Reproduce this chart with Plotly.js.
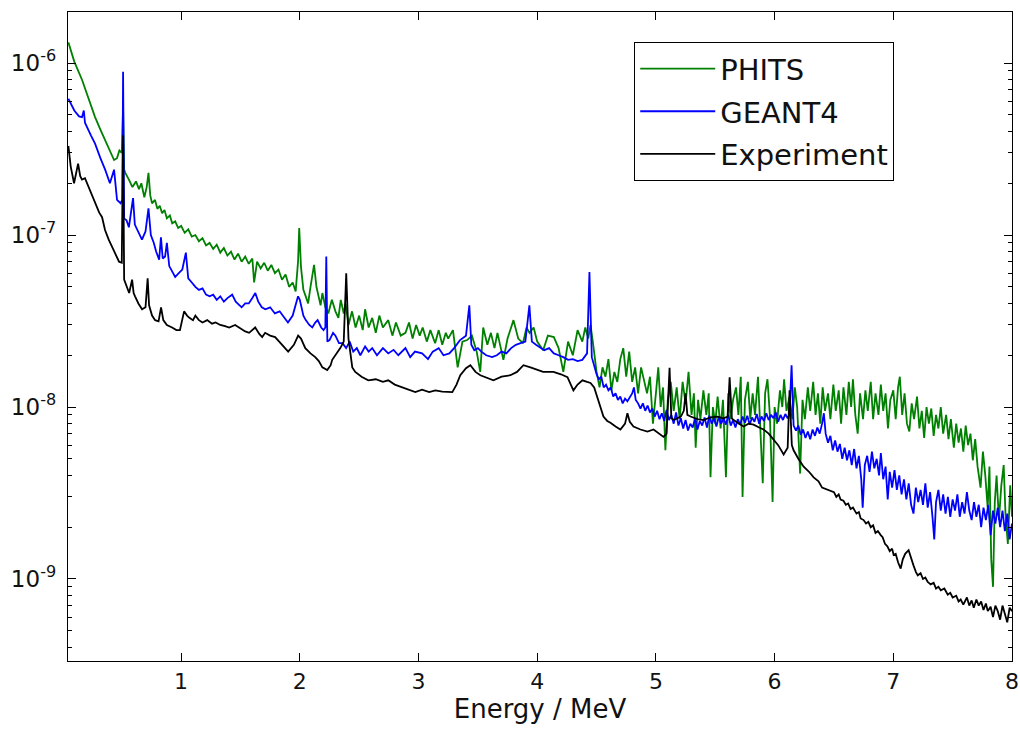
<!DOCTYPE html>
<html>
<head>
<meta charset="utf-8">
<script src="https://cdn.plot.ly/plotly-3.0.1.min.js"></script>
<style>
html,body{margin:0;padding:0;background:#fff;}
#chart{width:1020px;height:729px;}
</style>
</head>
<body>
<div id="chart"></div>
<script>
// ---- data (energy in MeV, counts per unit) ----
const phitsE = [0.05,0.10,0.165,0.22,0.275,0.32,0.36,0.40,0.435,0.46,0.48,0.50,0.511,0.52,0.53,0.56,0.59,0.62,0.645,0.665,0.69,0.71,0.725,0.74,0.755,0.78,0.80,0.82,0.84,0.86,0.88,0.905,0.925,0.95,0.975,1.00,1.03,1.06,1.09,1.12,1.15,1.18,1.21,1.24,1.27,1.30,1.33,1.36,1.39,1.42,1.45,1.48,1.51,1.54,1.57,1.60,1.615,1.64,1.67,1.70,1.73,1.76,1.79,1.82,1.85,1.88,1.91,1.94,1.965,1.985,1.995,2.01,2.03,2.05,2.07,2.09,2.12,2.14,2.155,2.175,2.19,2.215,2.24,2.27,2.30,2.325,2.345,2.37,2.385,2.41,2.44,2.47,2.50,2.53,2.55,2.58,2.61,2.64,2.67,2.70,2.745,2.78,2.81,2.85,2.89,2.92,2.95,2.98,3.01,3.035,3.07,3.10,3.14,3.17,3.20,3.23,3.25,3.29,3.33,3.37,3.41,3.45,3.49,3.52,3.545,3.58,3.61,3.64,3.665,3.69,3.715,3.75,3.80,3.84,3.88,3.91,3.935,3.97,4.00,4.05,4.09,4.14,4.18,4.22,4.26,4.30,4.34,4.38,4.405,4.43,4.449,4.47,
4.500,4.525,4.550,4.575,4.600,4.625,4.650,4.675,4.700,4.725,4.750,4.775,4.800,4.825,4.850,4.875,4.900,4.925,4.950,4.975,5.000,5.020,5.040,5.060,5.080,5.100,5.125,5.150,5.175,5.200,5.225,5.250,5.275,5.300,5.320,5.335,5.355,5.375,5.400,5.425,5.445,5.460,5.480,5.500,5.520,5.545,5.565,5.590,5.610,5.630,5.650,5.675,5.695,5.715,5.730,5.750,5.775,5.795,5.815,5.835,5.860,5.880,5.900,5.920,5.940,5.960,5.983,6.000,6.020,6.045,6.065,6.080,6.100,6.125,6.150,6.170,6.190,6.215,6.235,6.255,6.280,6.300,6.325,6.345,6.365,6.385,6.405,6.425,6.450,6.470,6.495,6.515,6.540,6.560,6.580,6.605,6.625,6.645,6.660,6.680,6.700,6.720,6.745,6.765,6.785,6.810,6.830,6.850,6.875,6.895,6.915,6.935,6.955,6.975,7.000,7.020,7.040,7.055,7.075,7.095,7.115,7.135,7.155,7.175,7.200,7.220,7.240,7.260,7.280,7.300,7.320,7.340,7.360,7.380,7.400,7.420,7.445,7.465,7.485,7.510,7.530,7.550,7.570,7.590,7.610,7.630,7.650,7.670,7.690,7.710,7.735,7.755,7.775,7.795,7.810,7.825,7.840,7.855,7.870,7.890,7.910,7.930,7.945,7.965,7.985,8.000];
const phitsY = [1.32e-6,1.02e-6,8.0e-7,6.2e-7,4.85e-7,4.1e-7,3.57e-7,3.1e-7,2.73e-7,2.8e-7,3.1e-7,3.0e-7,5.5e-7,2.4e-7,2.3e-7,2.1e-7,1.9e-7,2.05e-7,1.85e-7,2.0e-7,1.66e-7,1.9e-7,2.3e-7,1.7e-7,1.53e-7,1.6e-7,1.42e-7,1.48e-7,1.34e-7,1.4e-7,1.25e-7,1.3e-7,1.17e-7,1.2e-7,1.1e-7,1.13e-7,1.03e-7,1.08e-7,9.8e-8,1.0e-7,9.2e-8,9.6e-8,8.7e-8,9.0e-8,8.3e-8,8.8e-8,7.9e-8,8.4e-8,7.6e-8,8.0e-8,7.2e-8,7.8e-8,7.0e-8,7.5e-8,6.8e-8,7.3e-8,5.3e-8,7.0e-8,6.4e-8,6.9e-8,6.2e-8,6.7e-8,6.0e-8,6.3e-8,5.5e-8,5.9e-8,5.0e-8,5.3e-8,4.7e-8,7.0e-8,1.1e-7,6.5e-8,4.8e-8,4.4e-8,4.0e-8,5.0e-8,6.7e-8,5.0e-8,4.4e-8,3.9e-8,4.6e-8,3.8e-8,3.5e-8,4.2e-8,3.6e-8,3.3e-8,4.2e-8,3.5e-8,4.0e-8,3.0e-8,3.6e-8,2.9e-8,3.4e-8,2.8e-8,3.7e-8,2.9e-8,3.3e-8,2.7e-8,3.4e-8,2.9e-8,3.2e-8,2.6e-8,3.1e-8,2.6e-8,2.7e-8,3.1e-8,2.5e-8,3.0e-8,2.6e-8,2.9e-8,2.4e-8,2.8e-8,2.35e-8,2.8e-8,2.3e-8,2.7e-8,2.5e-8,2.8e-8,1.7e-8,2.4e-8,2.45e-8,2.6e-8,2.1e-8,1.6e-8,2.9e-8,2.3e-8,2.7e-8,2.2e-8,2.7e-8,2.3e-8,1.88e-8,2.5e-8,3.2e-8,2.5e-8,2.35e-8,2.9e-8,2.7e-8,2.9e-8,2.4e-8,2.14e-8,2.6e-8,2.55e-8,2.2e-8,1.6e-8,2.4e-8,2.0e-8,2.8e-8,2.4e-8,2.9e-8,2.5e-8,3.0e-8,2.35e-8,
1.6e-8,1.3e-8,1.7e-8,1.5e-8,1.9e-8,1.25e-8,1.6e-8,1.4e-8,1.9e-8,2.2e-8,1.5e-8,2.1e-8,1.4e-8,1.7e-8,1.2e-8,1.7e-8,1.4e-8,1.2e-8,1.5e-8,8.0e-9,1.2e-8,1.7e-8,1.0e-8,1.3e-8,5.6e-9,1.1e-8,1.4e-8,9.5e-9,1.3e-8,8.5e-9,1.4e-8,1.05e-8,1.6e-8,9.0e-9,1.2e-8,5.8e-9,1.1e-8,8.5e-9,1.25e-8,9.0e-9,1.2e-8,3.9e-9,1.0e-8,8.0e-9,1.15e-8,7.5e-9,1.1e-8,3.9e-9,1.2e-8,8.5e-9,1.1e-8,1.3e-8,9.0e-9,1.5e-8,3.0e-9,1.1e-8,1.4e-8,8.5e-9,1.2e-8,9.0e-9,1.5e-8,8.0e-9,3.6e-9,1.2e-8,1.45e-8,9.0e-9,2.8e-9,1.0e-8,8.0e-9,1.25e-8,1.0e-8,1.45e-8,9.5e-9,1.15e-8,8.5e-9,1.3e-8,1.0e-8,4.1e-9,1.1e-8,8.5e-9,1.3e-8,9.5e-9,1.4e-8,9.0e-9,1.2e-8,8.0e-9,1.3e-8,9.5e-9,1.2e-8,8.5e-9,1.35e-8,9.5e-9,1.25e-8,8.0e-9,1.3e-8,9.0e-9,1.4e-8,1.0e-8,1.45e-8,9.0e-9,7.0e-9,1.2e-8,8.5e-9,1.25e-8,9.5e-9,1.4e-8,8.5e-9,1.2e-8,9.0e-9,1.35e-8,9.5e-9,1.2e-8,7.5e-9,1.1e-8,1.25e-8,8.5e-9,1.3e-8,1.5e-8,9.0e-9,1.2e-8,8.0e-9,7.2e-9,1.05e-8,8.5e-9,1.15e-8,7.5e-9,9.5e-9,6.6e-9,1.0e-8,8.0e-9,9.8e-9,6.8e-9,9.0e-9,7.5e-9,1.0e-8,7.0e-9,9.0e-9,6.5e-9,8.5e-9,5.8e-9,8.0e-9,6.2e-9,7.5e-9,5.5e-9,7.8e-9,6.0e-9,7.0e-9,4.9e-9,6.5e-9,4.5e-9,3.4e-9,5.5e-9,4.0e-9,2.6e-9,4.5e-9,1.3e-9,9.0e-10,2.8e-9,4.0e-9,2.2e-9,3.5e-9,4.6e-9,2.4e-9,1.6e-9,3.5e-9,2.3e-9];

const geantE = [0.05,0.10,0.14,0.165,0.18,0.19,0.24,0.275,0.32,0.36,0.40,0.435,0.46,0.49,0.505,0.511,0.52,0.54,0.56,0.595,0.61,0.63,0.67,0.70,0.725,0.745,0.77,0.79,0.815,0.83,0.845,0.865,0.88,0.90,0.93,0.95,0.98,1.01,1.04,1.06,1.09,1.12,1.15,1.18,1.21,1.24,1.27,1.30,1.33,1.36,1.39,1.43,1.46,1.49,1.51,1.54,1.57,1.60,1.625,1.65,1.68,1.71,1.75,1.79,1.83,1.87,1.90,1.94,1.985,2.00,2.03,2.05,2.08,2.105,2.13,2.15,2.18,2.20,2.215,2.223,2.232,2.25,2.28,2.30,2.33,2.36,2.39,2.42,2.45,2.48,2.51,2.55,2.58,2.61,2.65,2.70,2.745,2.79,2.83,2.89,2.93,2.97,3.03,3.08,3.12,3.17,3.21,3.26,3.30,3.35,3.40,3.428,3.445,3.47,3.50,3.53,3.57,3.62,3.66,3.70,3.74,3.78,3.82,3.86,3.90,3.934,3.955,3.99,4.03,4.06,4.10,4.14,4.18,4.22,4.26,4.30,4.34,4.38,4.42,4.44,
4.460,4.480,4.500,4.520,4.540,4.560,4.580,4.600,4.620,4.640,4.660,4.680,4.700,4.720,4.740,4.760,4.780,4.800,4.815,4.830,4.850,4.870,4.890,4.910,4.930,4.950,4.970,4.990,5.010,5.030,5.050,5.070,5.090,5.110,5.130,5.150,5.170,5.190,5.210,5.230,5.250,5.270,5.290,5.310,5.330,5.350,5.370,5.390,5.410,5.430,5.450,5.470,5.490,5.510,5.530,5.550,5.570,5.590,5.610,5.630,5.650,5.670,5.690,5.710,5.730,5.750,5.770,5.790,5.810,5.830,5.850,5.870,5.890,5.910,5.930,5.950,5.970,5.990,6.010,6.030,6.050,6.070,6.090,6.110,6.125,6.143,6.160,6.180,6.200,6.220,6.240,6.260,6.280,6.300,6.320,6.340,6.360,6.380,6.400,6.415,6.430,6.450,6.470,6.490,6.510,6.530,6.550,6.570,6.590,6.610,6.630,6.650,6.670,6.690,6.710,6.730,6.742,6.760,6.780,6.800,6.820,6.840,6.860,6.880,6.895,6.915,6.935,6.953,6.970,6.990,7.010,7.030,7.050,7.070,7.090,7.110,7.130,7.150,7.170,7.190,7.210,7.230,7.250,7.270,7.290,7.310,7.330,7.345,7.360,7.380,7.400,7.420,7.440,7.460,7.480,7.500,7.520,7.540,7.560,7.580,7.600,7.620,7.640,7.660,7.680,7.700,7.720,7.740,7.760,7.780,7.800,7.820,7.840,7.860,7.880,7.900,7.920,7.940,7.960,7.980,8.000];
const geantY = [6.2e-7,5.3e-7,4.9e-7,4.85e-7,5.3e-7,4.5e-7,3.8e-7,3.4e-7,2.8e-7,2.4e-7,2.0e-7,2.4e-7,1.6e-7,1.53e-7,1.6e-7,8.9e-7,1.25e-7,1.22e-7,1.11e-7,1.64e-7,1.15e-7,1.07e-7,9.4e-8,1.05e-7,1.43e-7,1.0e-7,9.0e-8,8.0e-8,7.2e-8,9.7e-8,7.3e-8,7.5e-8,9.0e-8,6.6e-8,6.0e-8,5.7e-8,6.0e-8,6.3e-8,7.9e-8,5.6e-8,5.3e-8,5.0e-8,4.8e-8,4.9e-8,4.5e-8,4.4e-8,4.5e-8,4.2e-8,4.4e-8,4.1e-8,4.3e-8,4.5e-8,4.1e-8,3.9e-8,3.8e-8,4.0e-8,4.0e-8,4.3e-8,4.6e-8,4.1e-8,3.8e-8,3.7e-8,3.8e-8,3.5e-8,3.6e-8,3.3e-8,3.1e-8,3.4e-8,4.4e-8,4.2e-8,3.4e-8,3.2e-8,3.0e-8,2.9e-8,3.1e-8,3.2e-8,2.9e-8,2.8e-8,2.9e-8,7.5e-8,2.4e-8,2.45e-8,2.7e-8,2.6e-8,2.35e-8,2.35e-8,2.2e-8,2.4e-8,2.1e-8,2.2e-8,2.0e-8,2.25e-8,2.1e-8,2.2e-8,2.0e-8,2.2e-8,2.05e-8,2.15e-8,2.0e-8,2.2e-8,1.95e-8,2.1e-8,2.05e-8,1.9e-8,2.1e-8,2.2e-8,2.0e-8,2.05e-8,2.2e-8,2.45e-8,2.6e-8,3.9e-8,2.3e-8,2.14e-8,2.2e-8,2.1e-8,2.0e-8,1.95e-8,2.0e-8,2.1e-8,2.05e-8,2.2e-8,2.3e-8,2.35e-8,2.4e-8,3.9e-8,2.4e-8,2.3e-8,2.2e-8,2.14e-8,2.2e-8,2.05e-8,2.0e-8,1.95e-8,1.88e-8,1.9e-8,1.85e-8,1.88e-8,2.05e-8,6.1e-8,
1.95e-8,1.7e-8,1.55e-8,1.45e-8,1.5e-8,1.3e-8,1.35e-8,1.25e-8,1.3e-8,1.15e-8,1.2e-8,1.1e-8,1.15e-8,1.05e-8,1.12e-8,1.08e-8,1.15e-8,1.2e-8,1.3e-8,1.1e-8,1.05e-8,9.8e-9,1.05e-8,9.5e-9,1.02e-8,9.3e-9,9.8e-9,8.8e-9,9.5e-9,8.5e-9,9.2e-9,8.3e-9,9.6e-9,8.4e-9,9.0e-9,8.0e-9,9.3e-9,7.8e-9,8.6e-9,7.5e-9,8.4e-9,7.3e-9,8.0e-9,7.6e-9,8.6e-9,7.4e-9,8.3e-9,7.8e-9,8.7e-9,7.6e-9,8.9e-9,8.0e-9,8.6e-9,7.7e-9,8.8e-9,8.0e-9,8.6e-9,7.9e-9,9.0e-9,7.8e-9,8.4e-9,7.6e-9,8.5e-9,7.9e-9,8.8e-9,8.1e-9,8.9e-9,7.9e-9,8.7e-9,8.2e-9,9.1e-9,8.0e-9,8.8e-9,8.3e-9,9.2e-9,8.4e-9,9.0e-9,8.6e-9,9.3e-9,8.2e-9,9.0e-9,8.4e-9,9.1e-9,8.6e-9,9.0e-9,1.75e-8,7.8e-9,7.3e-9,7.8e-9,6.9e-9,7.4e-9,6.6e-9,7.2e-9,6.5e-9,7.4e-9,6.8e-9,7.6e-9,7.0e-9,8.0e-9,9.2e-9,7.0e-9,6.2e-9,6.8e-9,5.6e-9,6.4e-9,5.5e-9,6.1e-9,5.0e-9,5.8e-9,4.9e-9,5.6e-9,4.6e-9,5.7e-9,4.4e-9,5.2e-9,3.8e-9,2.6e-9,4.6e-9,5.2e-9,4.2e-9,5.5e-9,4.4e-9,5.0e-9,4.0e-9,5.4e-9,3.8e-9,4.5e-9,2.9e-9,4.2e-9,3.4e-9,4.3e-9,3.3e-9,4.0e-9,3.1e-9,3.8e-9,2.9e-9,3.6e-9,2.7e-9,2.4e-9,3.4e-9,2.8e-9,3.3e-9,2.7e-9,3.6e-9,2.6e-9,3.2e-9,2.3e-9,1.7e-9,2.8e-9,3.3e-9,2.5e-9,3.1e-9,2.4e-9,3.0e-9,2.3e-9,2.9e-9,2.5e-9,3.1e-9,2.3e-9,2.8e-9,2.4e-9,3.2e-9,2.5e-9,2.2e-9,2.8e-9,2.3e-9,2.7e-9,2.0e-9,2.6e-9,2.2e-9,2.7e-9,1.8e-9,2.5e-9,2.1e-9,2.6e-9,2.0e-9,2.5e-9,1.9e-9,2.4e-9,1.7e-9,2.1e-9];

const expE = [0.05,0.07,0.098,0.115,0.132,0.15,0.165,0.19,0.22,0.25,0.275,0.31,0.334,0.359,0.39,0.418,0.45,0.477,0.50,0.511,0.52,0.54,0.562,0.587,0.60,0.612,0.64,0.671,0.70,0.718,0.73,0.755,0.781,0.81,0.831,0.85,0.88,0.924,0.96,0.99,1.025,1.05,1.07,1.10,1.12,1.15,1.18,1.22,1.26,1.29,1.33,1.37,1.405,1.455,1.50,1.54,1.573,1.624,1.66,1.683,1.708,1.75,1.792,1.84,1.902,1.95,1.986,2.01,2.046,2.09,2.13,2.16,2.19,2.231,2.26,2.273,2.30,2.341,2.37,2.391,2.41,2.442,2.467,2.52,2.577,2.64,2.70,2.745,2.80,2.863,2.92,2.973,3.03,3.09,3.142,3.20,3.285,3.32,3.352,3.40,3.437,3.48,3.521,3.58,3.631,3.70,3.774,3.83,3.884,3.943,4.00,4.05,4.137,4.20,4.255,4.28,4.305,4.34,4.381,4.42,4.449,4.48,4.508,4.535,4.558,4.59,4.617,4.66,4.701,4.74,4.76,4.78,4.811,4.87,4.929,4.98,5.03,5.064,5.09,5.115,5.13,5.15,5.21,5.235,5.25,5.265,5.292,5.35,5.40,5.46,5.52,5.57,5.605,5.621,5.64,5.655,5.70,5.739,5.78,5.823,5.87,5.907,5.95,5.992,6.03,6.076,6.11,6.126,6.145,6.16,6.20,6.245,6.29,6.329,6.37,6.40,6.447,
6.500,6.520,6.540,6.556,6.580,6.600,6.620,6.640,6.660,6.690,6.710,6.725,6.750,6.770,6.790,6.810,6.830,6.850,6.870,6.894,6.910,6.930,6.950,6.970,6.990,7.003,7.020,7.040,7.062,7.080,7.100,7.129,7.150,7.170,7.190,7.206,7.230,7.250,7.270,7.290,7.315,7.340,7.360,7.380,7.400,7.430,7.459,7.480,7.500,7.530,7.550,7.568,7.590,7.620,7.640,7.660,7.678,7.700,7.720,7.740,7.760,7.780,7.796,7.820,7.840,7.860,7.880,7.900,7.920,7.940,7.960,7.980,8.000];
const expY = [3.3e-7,2.5e-7,2.0e-7,2.3e-7,2.6e-7,2.2e-7,2.1e-7,2.14e-7,1.9e-7,1.7e-7,1.53e-7,1.35e-7,1.27e-7,1.07e-7,9.4e-8,8.5e-8,7.6e-8,7.0e-8,6.9e-8,3.8e-7,5.5e-8,5.1e-8,4.6e-8,5.5e-8,4.6e-8,4.4e-8,4.0e-8,3.7e-8,3.8e-8,5.6e-8,3.9e-8,3.4e-8,3.2e-8,3.15e-8,3.8e-8,3.2e-8,3.0e-8,2.9e-8,2.8e-8,2.8e-8,3.6e-8,3.4e-8,3.3e-8,3.2e-8,3.4e-8,3.2e-8,3.1e-8,3.2e-8,3.05e-8,3.1e-8,3.0e-8,2.95e-8,2.9e-8,3.0e-8,2.85e-8,2.75e-8,2.7e-8,2.9e-8,2.65e-8,2.55e-8,2.7e-8,2.6e-8,2.55e-8,2.35e-8,2.1e-8,2.3e-8,2.6e-8,2.5e-8,2.2e-8,2.05e-8,1.95e-8,1.85e-8,1.7e-8,1.64e-8,1.75e-8,1.88e-8,2.0e-8,2.2e-8,2.4e-8,6.0e-8,2.5e-8,1.7e-8,1.6e-8,1.5e-8,1.43e-8,1.45e-8,1.4e-8,1.43e-8,1.35e-8,1.3e-8,1.25e-8,1.22e-8,1.26e-8,1.22e-8,1.25e-8,1.23e-8,1.22e-8,1.35e-8,1.53e-8,1.68e-8,1.75e-8,1.6e-8,1.53e-8,1.48e-8,1.43e-8,1.5e-8,1.53e-8,1.6e-8,1.75e-8,1.7e-8,1.65e-8,1.6e-8,1.6e-8,1.55e-8,1.49e-8,1.35e-8,1.25e-8,1.35e-8,1.43e-8,1.4e-8,1.38e-8,1.3e-8,1.14e-8,9.8e-9,8.8e-9,8.3e-9,8.1e-9,7.7e-9,7.4e-9,8.0e-9,9.2e-9,8.2e-9,7.7e-9,7.4e-9,7.2e-9,7.4e-9,7.0e-9,6.7e-9,7.0e-9,1.69e-8,8.6e-9,8.4e-9,8.8e-9,9.5e-9,1.2e-8,9.0e-9,8.8e-9,8.5e-9,8.4e-9,8.7e-9,8.8e-9,8.6e-9,8.8e-9,1.49e-8,8.6e-9,8.4e-9,8.0e-9,7.7e-9,8.0e-9,7.9e-9,7.6e-9,7.4e-9,7.0e-9,6.4e-9,6.0e-9,5.3e-9,5.8e-9,1.25e-8,6.0e-9,5.6e-9,5.0e-9,4.5e-9,4.2e-9,3.9e-9,3.7e-9,3.4e-9,3.3e-9,
3.2e-9,3.0e-9,3.1e-9,2.9e-9,2.85e-9,2.7e-9,2.75e-9,2.55e-9,2.6e-9,2.4e-9,2.45e-9,2.25e-9,2.2e-9,2.1e-9,2.15e-9,2.0e-9,2.05e-9,1.85e-9,1.9e-9,1.8e-9,1.75e-9,1.6e-9,1.55e-9,1.45e-9,1.5e-9,1.38e-9,1.4e-9,1.25e-9,1.15e-9,1.3e-9,1.4e-9,1.47e-9,1.3e-9,1.2e-9,1.1e-9,1.05e-9,1.08e-9,1.0e-9,1.02e-9,9.6e-10,9.3e-10,9.5e-10,8.8e-10,9.0e-10,8.6e-10,8.8e-10,8.1e-10,8.3e-10,7.8e-10,8.0e-10,7.4e-10,7.6e-10,7.1e-10,7.8e-10,7.0e-10,7.5e-10,6.8e-10,7.6e-10,7.0e-10,7.4e-10,6.6e-10,7.2e-10,6.5e-10,6.9e-10,6.0e-10,7.0e-10,6.5e-10,5.8e-10,7.0e-10,6.2e-10,5.6e-10,6.8e-10,6.5e-10];

const seriesNames = ['PHITS','GEANT4','Experiment'];
const yTickVals = [1e-9,1e-8,1e-7,1e-6];
const yTickText = ['10<sup>-9</sup>','10<sup>-8</sup>','10<sup>-7</sup>','10<sup>-6</sup>'];
const xTickVals = [1,2,3,4,5,6,7,8];

// minor tick positions on the log axis (2..9 x each decade)
const minorVals = [];
[-10,-9,-8,-7,-6].forEach(function(p){ for (let m=2;m<=9;m++) minorVals.push(m*Math.pow(10,p)); });

const font = 'DejaVu Sans, Liberation Sans, sans-serif';
const traces = [
  {x: phitsE, y: phitsY, name: seriesNames[0], legendgroup:'a', type:'scatter', mode:'lines', line:{color:'#008000', width:1.8}},
  {x: geantE, y: geantY, name: seriesNames[1], legendgroup:'b', type:'scatter', mode:'lines', line:{color:'#0000ff', width:1.8}},
  {x: expE, y: expY, name: seriesNames[2], legendgroup:'c', type:'scatter', mode:'lines', line:{color:'#000000', width:1.8}}
];

const axisCommon = {
  showline:true, linecolor:'#000', linewidth:1.2, mirror:'ticks',
  ticks:'inside', ticklen:8, tickwidth:1, tickcolor:'#000',
  showgrid:false, zeroline:false
};

const layout = {
  width:1020, height:729,
  margin:{l:68, r:8, t:12, b:68},
  paper_bgcolor:'#fff', plot_bgcolor:'#fff',
  font:{family:font, color:'#111', size:22},
  showlegend:true,
  legend:{x:0.5996, y:0.9538, xanchor:'left', yanchor:'top',
          bgcolor:'#fff', bordercolor:'#000', borderwidth:1.2,
          font:{family:font, size:29, color:'#111'}, itemwidth:75,
          tracegroupgap:2},
  xaxis: Object.assign({}, axisCommon, {
    range:[0.047, 8.0], tickmode:'array', tickvals:xTickVals,
    tickfont:{family:font, size:22}, ticklabelstandoff:0,
    title:{text:'Energy / MeV', font:{family:font, size:26}, standoff:6}
  }),
  yaxis: Object.assign({}, axisCommon, {
    type:'log', range:[-9.477, -5.703], tickmode:'array',
    tickvals:yTickVals, ticktext:yTickText,
    tickfont:{family:font, size:23}, ticklabelstandoff:6,
    minor:{tickmode:'array', tickvals:minorVals, ticks:'inside', ticklen:4, tickcolor:'#000', showgrid:false}
  })
};

Plotly.newPlot('chart', traces, layout, {displayModeBar:false, staticPlot:true});
</script>
</body>
</html>
